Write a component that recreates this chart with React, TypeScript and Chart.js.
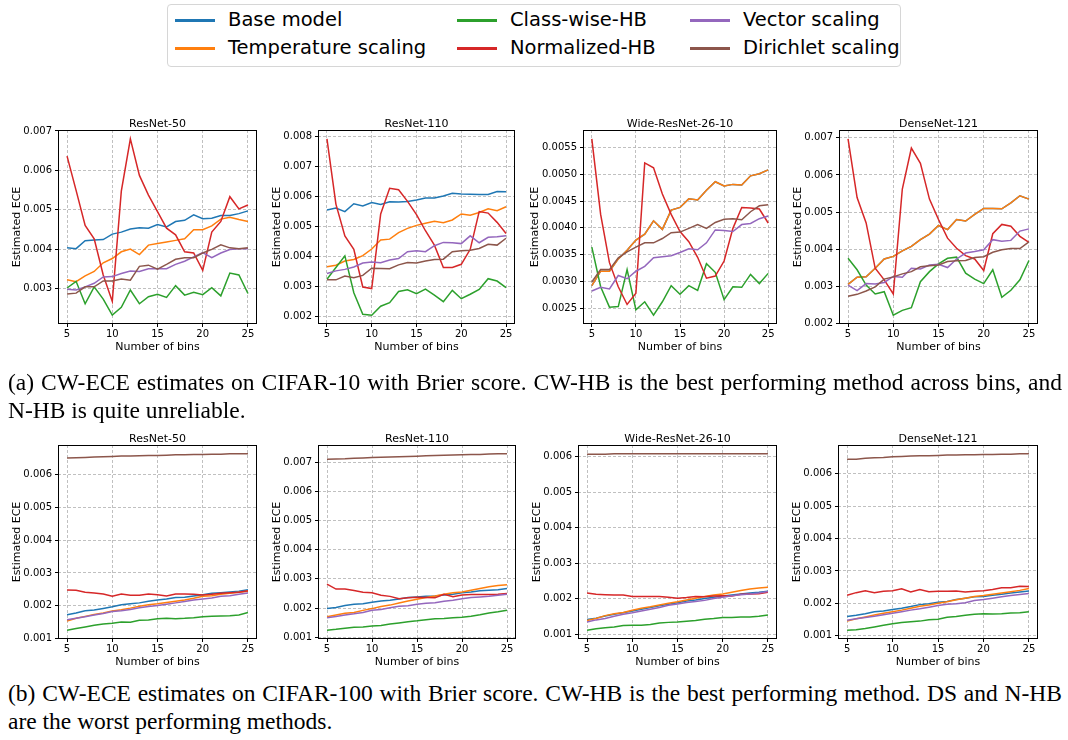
import React, { useEffect, useRef } from "react";
import { Chart, registerables } from "chart.js";

Chart.register(...registerables);

// ---------- data ----------
const BINS = [5, 6, 7, 8, 9, 10, 11, 12, 13, 14, 15, 16, 17, 18, 19, 20, 21, 22, 23, 24, 25];
const X_TICKS = [5, 10, 15, 20, 25];
const SERIES_NAMES = ["Base model", "Temperature scaling", "Class-wise-HB", "Normalized-HB", "Vector scaling", "Dirichlet scaling"];
const SERIES_COLORS = ["#1f77b4", "#ff7f0e", "#2ca02c", "#d62728", "#9467bd", "#8c564b"];
const PANEL_TITLES = ["ResNet-50", "ResNet-110", "Wide-ResNet-26-10", "DenseNet-121"];
const X_LABEL = "Number of bins";
const Y_LABEL = "Estimated ECE";
const CAPTION_A = "(a) CW-ECE estimates on CIFAR-10 with Brier score. CW-HB is the best performing method across bins, and N-HB is quite unreliable.";
const CAPTION_B = "(b) CW-ECE estimates on CIFAR-100 with Brier score. CW-HB is the best performing method. DS and N-HB are the worst performing methods.";

// CIFAR-10, ResNet-50
const C10_R50_BASE = [0.00403, 0.00401, 0.00421, 0.00423, 0.00424, 0.00438, 0.00443, 0.00451, 0.00454, 0.00453, 0.00462, 0.00456, 0.0047, 0.00473, 0.00487, 0.00477, 0.00478, 0.00485, 0.00485, 0.0049, 0.00497];
const C10_R50_TS = [0.00322, 0.00317, 0.00332, 0.00343, 0.00365, 0.00376, 0.00393, 0.004, 0.00386, 0.0041, 0.00414, 0.00418, 0.00422, 0.00426, 0.00449, 0.00449, 0.00459, 0.00476, 0.00481, 0.00475, 0.0047];
const C10_R50_CWHB = [0.00301, 0.00318, 0.00261, 0.00304, 0.00273, 0.00232, 0.00252, 0.00296, 0.00261, 0.00279, 0.00285, 0.00277, 0.00307, 0.00283, 0.0029, 0.00284, 0.00302, 0.00281, 0.00339, 0.00334, 0.00287];
const C10_R50_NHB = [0.00636, 0.00549, 0.0046, 0.00426, 0.00334, 0.00267, 0.00547, 0.0068, 0.00587, 0.00537, 0.00495, 0.00453, 0.00436, 0.00393, 0.0039, 0.00346, 0.00443, 0.0047, 0.00533, 0.00502, 0.00512];
const C10_R50_VS = [0.00298, 0.00296, 0.00304, 0.00313, 0.00329, 0.0033, 0.00338, 0.00344, 0.00343, 0.0035, 0.0035, 0.0035, 0.00361, 0.00369, 0.0038, 0.00391, 0.00378, 0.0039, 0.00399, 0.00401, 0.00401];
const C10_R50_DS = [0.00286, 0.00288, 0.00304, 0.00304, 0.00319, 0.00319, 0.00324, 0.00321, 0.00356, 0.00359, 0.00349, 0.00361, 0.00374, 0.00378, 0.00378, 0.0039, 0.00399, 0.00411, 0.00403, 0.00401, 0.00403];

// CIFAR-10, ResNet-110
const C10_R110_BASE = [0.00554, 0.00561, 0.00549, 0.00575, 0.00568, 0.00579, 0.00573, 0.00582, 0.00581, 0.00583, 0.00588, 0.00594, 0.00594, 0.00601, 0.0061, 0.00608, 0.00607, 0.00606, 0.00606, 0.00616, 0.00615];
const C10_R110_TS = [0.00365, 0.0037, 0.00384, 0.00389, 0.00402, 0.00424, 0.00454, 0.00457, 0.00479, 0.00493, 0.00503, 0.0051, 0.00517, 0.00512, 0.00521, 0.00541, 0.00537, 0.00546, 0.00558, 0.00552, 0.00565];
const C10_R110_CWHB = [0.00323, 0.00362, 0.00401, 0.00278, 0.00206, 0.00203, 0.00233, 0.00245, 0.00282, 0.00288, 0.00275, 0.0029, 0.0027, 0.00248, 0.00286, 0.00258, 0.00273, 0.00289, 0.00325, 0.00317, 0.00295];
const C10_R110_NHB = [0.00792, 0.00574, 0.00468, 0.00423, 0.00297, 0.00292, 0.00541, 0.00627, 0.00622, 0.00583, 0.00539, 0.00485, 0.00437, 0.00362, 0.00362, 0.00373, 0.00423, 0.00549, 0.00544, 0.00513, 0.00476];
const C10_R110_VS = [0.00342, 0.00351, 0.00356, 0.00364, 0.00377, 0.00381, 0.00378, 0.00387, 0.00392, 0.00415, 0.00418, 0.00415, 0.00435, 0.00446, 0.00445, 0.00442, 0.00468, 0.00445, 0.00463, 0.00465, 0.00468];
const C10_R110_DS = [0.00321, 0.00321, 0.00334, 0.00328, 0.00336, 0.0036, 0.00359, 0.00358, 0.00371, 0.00379, 0.00377, 0.00384, 0.00389, 0.0039, 0.00415, 0.00418, 0.0042, 0.00426, 0.0044, 0.00437, 0.0046];

// CIFAR-10, Wide-ResNet-26-10
const C10_WRN_BASE = [0.00292, 0.00319, 0.00319, 0.00342, 0.00358, 0.00377, 0.00388, 0.00413, 0.00397, 0.00433, 0.00438, 0.00454, 0.00452, 0.0047, 0.00486, 0.00478, 0.00481, 0.0048, 0.00497, 0.00501, 0.00508];
const C10_WRN_TS = [0.00292, 0.00319, 0.00319, 0.00342, 0.00358, 0.00377, 0.00388, 0.00413, 0.00397, 0.00433, 0.00438, 0.00454, 0.00452, 0.0047, 0.00486, 0.00478, 0.00481, 0.0048, 0.00497, 0.00501, 0.00508];
const C10_WRN_CWHB = [0.00364, 0.0029, 0.00252, 0.00253, 0.00322, 0.00247, 0.00262, 0.00237, 0.00262, 0.00292, 0.00276, 0.00292, 0.00283, 0.00333, 0.00317, 0.00266, 0.0029, 0.00289, 0.00313, 0.00296, 0.00315];
const C10_WRN_NHB = [0.00566, 0.00425, 0.00335, 0.0029, 0.00257, 0.00278, 0.00521, 0.00512, 0.00463, 0.00425, 0.00393, 0.00374, 0.00345, 0.00306, 0.0031, 0.00338, 0.00399, 0.00438, 0.00437, 0.00435, 0.00409];
const C10_WRN_VS = [0.00282, 0.00289, 0.00286, 0.00311, 0.00305, 0.00319, 0.00328, 0.00344, 0.00346, 0.00348, 0.00354, 0.00361, 0.00359, 0.00372, 0.00396, 0.00395, 0.00393, 0.00406, 0.00408, 0.00417, 0.00422];
const C10_WRN_DS = [0.00299, 0.00322, 0.00322, 0.00344, 0.00355, 0.00364, 0.00372, 0.00372, 0.0038, 0.00391, 0.00392, 0.00399, 0.00406, 0.00399, 0.0041, 0.00416, 0.00417, 0.00415, 0.0043, 0.00441, 0.00443];

// CIFAR-10, DenseNet-121
const C10_DN_BASE = [0.00306, 0.00325, 0.00326, 0.00349, 0.00374, 0.00381, 0.00396, 0.00408, 0.00426, 0.00441, 0.00464, 0.00453, 0.0048, 0.00476, 0.00494, 0.0051, 0.0051, 0.00509, 0.00525, 0.00544, 0.00535];
const C10_DN_TS = [0.00306, 0.00325, 0.00326, 0.00349, 0.00374, 0.00381, 0.00396, 0.00408, 0.00426, 0.00441, 0.00464, 0.00453, 0.0048, 0.00476, 0.00494, 0.0051, 0.0051, 0.00509, 0.00525, 0.00544, 0.00535];
const C10_DN_CWHB = [0.00376, 0.00345, 0.00304, 0.0028, 0.00286, 0.00223, 0.00236, 0.00243, 0.00313, 0.0034, 0.00361, 0.00376, 0.00379, 0.00336, 0.0032, 0.00308, 0.00345, 0.00271, 0.0029, 0.00318, 0.0037];
const C10_DN_NHB = [0.00697, 0.00539, 0.00471, 0.00349, 0.00318, 0.0028, 0.00562, 0.00672, 0.00631, 0.00535, 0.0048, 0.0043, 0.00403, 0.00383, 0.00374, 0.00343, 0.00442, 0.00467, 0.00462, 0.00435, 0.00419];
const C10_DN_VS = [0.00304, 0.00289, 0.00308, 0.00307, 0.00311, 0.00327, 0.00325, 0.00349, 0.00347, 0.00358, 0.0036, 0.00351, 0.00374, 0.0039, 0.00394, 0.00399, 0.00426, 0.00422, 0.00424, 0.00449, 0.00455];
const C10_DN_DS = [0.00274, 0.00279, 0.00288, 0.00299, 0.0032, 0.00326, 0.00334, 0.0034, 0.00353, 0.00356, 0.00358, 0.00367, 0.00369, 0.0037, 0.00378, 0.0038, 0.00392, 0.00399, 0.00402, 0.00402, 0.0042];

// CIFAR-100, ResNet-50
const C100_R50_BASE = [0.00173, 0.00178, 0.00185, 0.00187, 0.00192, 0.00197, 0.00203, 0.00206, 0.00209, 0.00214, 0.00218, 0.00221, 0.00225, 0.00226, 0.0023, 0.00234, 0.00238, 0.0024, 0.00242, 0.00244, 0.00249];
const C100_R50_TS = [0.00154, 0.00162, 0.00168, 0.00174, 0.00178, 0.00184, 0.00188, 0.00193, 0.00199, 0.00203, 0.00206, 0.0021, 0.00214, 0.00218, 0.00223, 0.00229, 0.00231, 0.00235, 0.00238, 0.00241, 0.00244];
const C100_R50_CWHB = [0.00126, 0.00131, 0.00136, 0.00141, 0.00145, 0.00147, 0.00151, 0.0015, 0.00156, 0.00157, 0.00161, 0.00162, 0.00161, 0.00162, 0.00164, 0.00167, 0.00168, 0.00169, 0.0017, 0.00172, 0.0018];
const C100_R50_NHB = [0.00248, 0.00247, 0.00241, 0.00239, 0.00236, 0.00229, 0.00236, 0.00232, 0.00232, 0.00236, 0.00234, 0.0023, 0.00236, 0.00236, 0.00235, 0.00233, 0.00235, 0.00238, 0.0024, 0.00241, 0.00246];
const C100_R50_VS = [0.00158, 0.00162, 0.00167, 0.00172, 0.00177, 0.00183, 0.00185, 0.00189, 0.00194, 0.00198, 0.00201, 0.00205, 0.00209, 0.00213, 0.00218, 0.00221, 0.00224, 0.00229, 0.00231, 0.00235, 0.00239];
const C100_R50_DS = [0.00649, 0.0065, 0.00651, 0.00652, 0.00653, 0.00654, 0.00655, 0.00655, 0.00656, 0.00657, 0.00657, 0.00658, 0.00659, 0.00659, 0.0066, 0.0066, 0.00661, 0.00661, 0.00662, 0.00662, 0.00662];

// CIFAR-100, ResNet-110
const C100_R110_BASE = [0.00198, 0.00202, 0.00209, 0.00213, 0.00215, 0.0022, 0.00224, 0.00227, 0.00231, 0.00236, 0.00238, 0.0024, 0.00241, 0.00245, 0.00247, 0.00252, 0.00255, 0.00259, 0.00261, 0.00263, 0.00267];
const C100_R110_TS = [0.0017, 0.00176, 0.00182, 0.00185, 0.00192, 0.00198, 0.00205, 0.0021, 0.00217, 0.00224, 0.0023, 0.00236, 0.00241, 0.00247, 0.00252, 0.00255, 0.00261, 0.00267, 0.00273, 0.00277, 0.0028];
const C100_R110_CWHB = [0.00124, 0.00127, 0.00131, 0.00134, 0.00135, 0.00138, 0.0014, 0.00145, 0.00149, 0.00153, 0.00156, 0.0016, 0.00163, 0.00164, 0.00167, 0.00168, 0.00172, 0.00177, 0.00183, 0.00187, 0.00192];
const C100_R110_NHB = [0.00282, 0.00265, 0.00265, 0.0026, 0.00254, 0.00252, 0.00244, 0.0024, 0.00232, 0.00235, 0.00237, 0.00236, 0.00235, 0.00247, 0.00239, 0.00245, 0.00246, 0.00246, 0.00246, 0.00247, 0.0025];
const C100_R110_VS = [0.00167, 0.00171, 0.00176, 0.0018, 0.00185, 0.00192, 0.00195, 0.00201, 0.00206, 0.00208, 0.00213, 0.00216, 0.00218, 0.00223, 0.00227, 0.00232, 0.00236, 0.00238, 0.0024, 0.00244, 0.00247];
const C100_R110_DS = [0.0071, 0.00711, 0.00712, 0.00714, 0.00715, 0.00716, 0.00717, 0.00718, 0.00719, 0.0072, 0.00721, 0.00722, 0.00723, 0.00724, 0.00725, 0.00726, 0.00727, 0.00727, 0.00728, 0.00729, 0.00729];

// CIFAR-100, Wide-ResNet-26-10
const C100_WRN_BASE = [0.00141, 0.00145, 0.00151, 0.00156, 0.0016, 0.00165, 0.0017, 0.00175, 0.0018, 0.00184, 0.00188, 0.00193, 0.00196, 0.002, 0.00204, 0.00207, 0.0021, 0.00213, 0.00216, 0.00218, 0.00221];
const C100_WRN_TS = [0.00138, 0.00144, 0.00152, 0.00157, 0.00161, 0.00167, 0.00173, 0.00177, 0.00182, 0.00187, 0.00191, 0.00196, 0.00201, 0.00206, 0.0021, 0.00213, 0.00218, 0.00223, 0.00227, 0.0023, 0.00232];
const C100_WRN_CWHB = [0.00111, 0.00115, 0.00118, 0.0012, 0.00124, 0.00125, 0.00125, 0.00127, 0.00131, 0.00133, 0.00134, 0.00136, 0.00138, 0.00142, 0.00144, 0.00147, 0.00147, 0.00148, 0.00148, 0.0015, 0.00154];
const C100_WRN_NHB = [0.00216, 0.00212, 0.00211, 0.0021, 0.0021, 0.00206, 0.00206, 0.00206, 0.00206, 0.00204, 0.00201, 0.00203, 0.00206, 0.00205, 0.00207, 0.00208, 0.00207, 0.00212, 0.00213, 0.00214, 0.00218];
const C100_WRN_VS = [0.00134, 0.0014, 0.00144, 0.0015, 0.00156, 0.0016, 0.00165, 0.0017, 0.00175, 0.00181, 0.00185, 0.00189, 0.00192, 0.00195, 0.002, 0.00204, 0.00208, 0.00211, 0.00213, 0.00216, 0.0022];
const C100_WRN_DS = [0.00607, 0.00607, 0.00607, 0.00608, 0.00608, 0.00608, 0.00608, 0.00608, 0.00608, 0.00608, 0.00608, 0.00608, 0.00608, 0.00608, 0.00608, 0.00608, 0.00608, 0.00608, 0.00608, 0.00608, 0.00608];

// CIFAR-100, DenseNet-121
const C100_DN_BASE = [0.00159, 0.00163, 0.00168, 0.00174, 0.00176, 0.00181, 0.00185, 0.0019, 0.00196, 0.00199, 0.00203, 0.00206, 0.00212, 0.00216, 0.0022, 0.00221, 0.00225, 0.00228, 0.00232, 0.00235, 0.00238];
const C100_DN_TS = [0.00145, 0.00152, 0.00158, 0.00164, 0.00169, 0.00174, 0.00179, 0.00185, 0.00191, 0.00195, 0.002, 0.00205, 0.00211, 0.00216, 0.00221, 0.00224, 0.00228, 0.00232, 0.00236, 0.0024, 0.00246];
const C100_DN_CWHB = [0.00117, 0.00118, 0.00122, 0.00127, 0.00132, 0.00137, 0.00141, 0.00143, 0.00145, 0.00149, 0.00151, 0.00157, 0.00159, 0.00163, 0.00166, 0.00168, 0.00167, 0.00168, 0.0017, 0.00171, 0.00174];
const C100_DN_NHB = [0.00225, 0.00233, 0.00239, 0.00233, 0.00237, 0.00239, 0.00245, 0.00235, 0.00243, 0.00236, 0.00237, 0.00237, 0.00238, 0.00235, 0.00237, 0.00239, 0.00243, 0.00248, 0.00248, 0.00253, 0.00252];
const C100_DN_VS = [0.00148, 0.00152, 0.00156, 0.0016, 0.00165, 0.00169, 0.00174, 0.00179, 0.00183, 0.00188, 0.00193, 0.00197, 0.00199, 0.00202, 0.00209, 0.00212, 0.00216, 0.0022, 0.00224, 0.00227, 0.0023];
const C100_DN_DS = [0.00645, 0.00645, 0.00648, 0.0065, 0.00651, 0.00653, 0.00654, 0.00655, 0.00656, 0.00656, 0.00657, 0.00658, 0.00658, 0.00659, 0.00659, 0.0066, 0.0066, 0.00661, 0.00661, 0.00662, 0.00662];

// ---------- layout (plot boxes: left, top, right, bottom in page px) ----------
type PanelDef = { title: string; series: number[][]; step: number; decimals: number; box: [number, number, number, number] };

const PANELS: PanelDef[] = [
  { title: PANEL_TITLES[0], series: [C10_R50_BASE, C10_R50_TS, C10_R50_CWHB, C10_R50_NHB, C10_R50_VS, C10_R50_DS], step: 0.001, decimals: 3, box: [58, 130, 257, 324] },
  { title: PANEL_TITLES[1], series: [C10_R110_BASE, C10_R110_TS, C10_R110_CWHB, C10_R110_NHB, C10_R110_VS, C10_R110_DS], step: 0.001, decimals: 3, box: [318, 130, 515, 324] },
  { title: PANEL_TITLES[2], series: [C10_WRN_BASE, C10_WRN_TS, C10_WRN_CWHB, C10_WRN_NHB, C10_WRN_VS, C10_WRN_DS], step: 0.0005, decimals: 4, box: [583, 130, 777, 324] },
  { title: PANEL_TITLES[3], series: [C10_DN_BASE, C10_DN_TS, C10_DN_CWHB, C10_DN_NHB, C10_DN_VS, C10_DN_DS], step: 0.001, decimals: 3, box: [839, 130, 1038, 324] },
  { title: PANEL_TITLES[0], series: [C100_R50_BASE, C100_R50_TS, C100_R50_CWHB, C100_R50_NHB, C100_R50_VS, C100_R50_DS], step: 0.001, decimals: 3, box: [58, 445, 257, 639] },
  { title: PANEL_TITLES[1], series: [C100_R110_BASE, C100_R110_TS, C100_R110_CWHB, C100_R110_NHB, C100_R110_VS, C100_R110_DS], step: 0.001, decimals: 3, box: [318, 445, 516, 639] },
  { title: PANEL_TITLES[2], series: [C100_WRN_BASE, C100_WRN_TS, C100_WRN_CWHB, C100_WRN_NHB, C100_WRN_VS, C100_WRN_DS], step: 0.001, decimals: 3, box: [578, 445, 777, 639] },
  { title: PANEL_TITLES[3], series: [C100_DN_BASE, C100_DN_TS, C100_DN_CWHB, C100_DN_NHB, C100_DN_VS, C100_DN_DS], step: 0.001, decimals: 3, box: [838, 445, 1038, 639] },
];

const Y_W = 64;
const PAD_T = 22;
const PAD_R = 6;
const X_H = 36;
const TICK_FONT = { family: "'DejaVu Sans', sans-serif", size: 10 };
const LABEL_FONT = "11px 'DejaVu Sans', sans-serif";

function Panel({ panel }: { panel: PanelDef }) {
  const ref = useRef<HTMLCanvasElement>(null);
  const [l, t, r, b] = panel.box;
  const cw = r - l + Y_W + PAD_R;
  const ch = b - t + PAD_T + X_H;

  useEffect(() => {
    if (!ref.current) return;
    const all = panel.series.flat();
    const lo = Math.min(...all);
    const hi = Math.max(...all);
    const m = (hi - lo) * 0.05;
    const ymin = lo - m;
    const ymax = hi + m;
    const step = panel.step;
    const yTicks: number[] = [];
    for (let k = Math.ceil(ymin / step - 1e-9); k * step <= ymax + 1e-12; k++) {
      yTicks.push(parseFloat((k * step).toFixed(6)));
    }
    const fmt = (v: number) => Number(v).toFixed(panel.decimals);

    const decor = {
      id: "decor",
      afterDraw(chart: any) {
        const { ctx, chartArea } = chart;
        const { left, top, right, bottom } = chartArea;
        ctx.save();
        ctx.strokeStyle = "#000";
        ctx.lineWidth = 1;
        ctx.setLineDash([]);
        ctx.strokeRect(Math.round(left) + 0.5, Math.round(top) + 0.5, Math.round(right - left) - 1, Math.round(bottom - top) - 1);
        ctx.fillStyle = "#000";
        ctx.font = LABEL_FONT;
        ctx.textAlign = "center";
        ctx.textBaseline = "alphabetic";
        ctx.fillText(panel.title, (left + right) / 2, top - 3);
        ctx.textBaseline = "middle";
        ctx.fillText(X_LABEL, (left + right) / 2, bottom + 23);
        ctx.font = `${TICK_FONT.size}px ${TICK_FONT.family}`;
        let w = 0;
        yTicks.forEach((v) => { w = Math.max(w, ctx.measureText(fmt(v)).width); });
        ctx.font = LABEL_FONT;
        ctx.translate(left - w - 12.5, (top + bottom) / 2);
        ctx.rotate(-Math.PI / 2);
        ctx.fillText(Y_LABEL, 0, 0);
        ctx.restore();
      },
    };

    const chart = new Chart(ref.current, {
      type: "line",
      data: {
        datasets: SERIES_NAMES.map((name, i) => ({
          label: name,
          data: BINS.map((x, j) => ({ x, y: panel.series[i][j] })),
          borderColor: SERIES_COLORS[i],
          backgroundColor: SERIES_COLORS[i],
          borderWidth: 1.5,
          pointRadius: 0,
          tension: 0,
          fill: false,
          order: SERIES_NAMES.length - i,
        })),
      },
      options: {
        animation: false,
        responsive: false,
        devicePixelRatio: 1,
        events: [],
        layout: { padding: { top: PAD_T, right: PAD_R, left: 0, bottom: 0 } },
        plugins: { legend: { display: false }, tooltip: { enabled: false }, title: { display: false } },
        scales: {
          x: {
            type: "linear",
            min: 4,
            max: 26,
            afterBuildTicks: (s: any) => { s.ticks = X_TICKS.map((v) => ({ value: v })); },
            afterFit: (s: any) => { s.height = X_H; },
            grid: { color: "#b0b0b0", lineWidth: 0.8, drawTicks: true, tickLength: 3, tickColor: "#000", tickWidth: 1 },
            border: { display: false, dash: [3, 2] },
            ticks: { autoSkip: false, maxRotation: 0, padding: 1, color: "#000", font: TICK_FONT },
          },
          y: {
            type: "linear",
            min: ymin,
            max: ymax,
            afterBuildTicks: (s: any) => { s.ticks = yTicks.map((v) => ({ value: v })); },
            afterFit: (s: any) => { s.width = Y_W; },
            grid: { color: "#b0b0b0", lineWidth: 0.8, drawTicks: true, tickLength: 3, tickColor: "#000", tickWidth: 1 },
            border: { display: false, dash: [3, 2] },
            ticks: { autoSkip: false, padding: 3, color: "#000", font: TICK_FONT, callback: (v: any) => fmt(v) },
          },
        },
      },
      plugins: [decor],
    } as any);
    return () => chart.destroy();
  }, [panel]);

  return (
    <canvas
      ref={ref}
      width={cw}
      height={ch}
      style={{ position: "absolute", left: l - Y_W, top: t - PAD_T, width: cw, height: ch }}
    />
  );
}

function Legend() {
  const colX = [7, 289, 522];
  const rowY = [15, 43];
  const items = SERIES_NAMES.map((name, i) => ({ name, color: SERIES_COLORS[i], col: Math.floor(i / 2), row: i % 2 }));
  return (
    <div
      style={{
        position: "absolute",
        left: 167,
        top: 4,
        width: 734,
        height: 63,
        boxSizing: "border-box",
        border: "1px solid #d6d6d6",
        borderRadius: 4,
        background: "#fff",
      }}
    >
      {items.map((it) => (
        <React.Fragment key={it.name}>
          <div
            style={{
              position: "absolute",
              left: colX[it.col],
              top: rowY[it.row] - 1.5,
              width: 40,
              height: 3,
              background: it.color,
            }}
          />
          <div
            style={{
              position: "absolute",
              left: colX[it.col] + 53,
              top: rowY[it.row] - 12,
              height: 24,
              lineHeight: "24px",
              fontFamily: "'DejaVu Sans', sans-serif",
              fontSize: 19.5,
              color: "#000",
              whiteSpace: "nowrap",
            }}
          >
            {it.name}
          </div>
        </React.Fragment>
      ))}
    </div>
  );
}

function Caption({ text, top }: { text: string; top: number }) {
  return (
    <div
      style={{
        position: "absolute",
        left: 8,
        top,
        width: 1054,
        fontFamily: "'Liberation Serif', 'Times New Roman', serif",
        fontSize: 23.5,
        lineHeight: "28px",
        textAlign: "justify",
        color: "#000",
      }}
    >
      {text}
    </div>
  );
}

export default function App() {
  return (
    <div style={{ position: "absolute", left: 0, top: 0, width: 1068, height: 740, background: "#fff", overflow: "hidden" }}>
      <Legend />
      {PANELS.map((p, i) => (
        <Panel key={i} panel={p} />
      ))}
      <Caption text={CAPTION_A} top={368} />
      <Caption text={CAPTION_B} top={679} />
    </div>
  );
}
